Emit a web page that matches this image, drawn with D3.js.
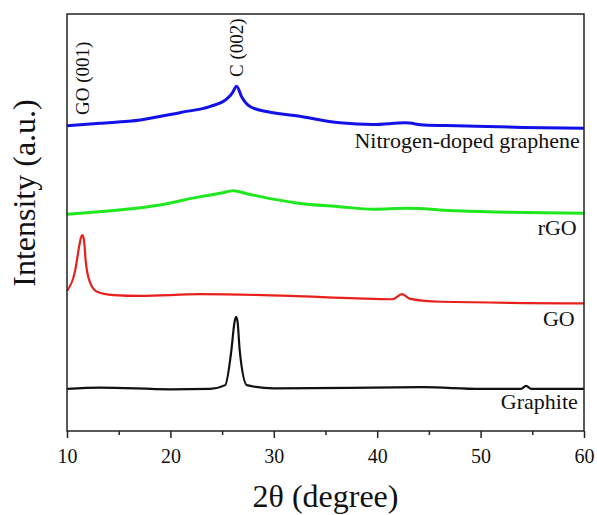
<!DOCTYPE html>
<html>
<head>
<meta charset="utf-8">
<script src="https://cdn.jsdelivr.net/npm/d3@7"></script>
<style>
  body { margin: 0; background: #fff; }
  text { font-family: "Liberation Serif", "Times New Roman", serif; fill: #111; }
</style>
</head>
<body>
<svg width="597" height="515"></svg>
<script>
// data: [2theta, intensity (a.u.)]
var nGraphene = [[10,73.2],[13.2,73.8],[17.1,74.6],[21,76.4],[23.8,77.8],[25.4,79.5],[26,81.1],[26.4,82.7],
  [26.9,80.1],[27.7,77.8],[29.3,76.6],[32.2,75.6],[36.4,73.9],[39.6,73.5],[42.7,73.9],[44.5,73.4],[47.7,73.2],[54.1,72.8],[60,72.6]]
var rGO = [[10,52.0],[14.2,52.8],[19,54.2],[22.9,56.2],[24.8,57.0],[26.1,57.6],[27.4,56.9],[28.7,56.2],[32.2,54.7],[36.4,53.8],
  [39.6,53.2],[42.9,53.4],[47.7,52.8],[60,52.2]]
var GO = [[10,33.6],[10.8,38.6],[11.2,44.6],[11.35,46.4],[11.5,47.0],[11.65,45.6],[11.8,41.0],[12.2,35.8],[12.9,33.4],
  [14.5,32.6],[17.1,32.4],[22.9,32.8],[31.6,32.4],[38,31.8],[41.5,31.6],[42.4,32.8],[43.2,31.7],[46.1,31.0],[60,30.6]]
var graphite = [[10,10.1],[13.2,10.4],[20,10.0],[23.8,10.1],[25.3,11.0],[25.9,19.4],[26.2,26.1],[26.35,27.4],
  [26.5,26.1],[26.7,19.4],[27.4,11.0],[30,10.2],[44.5,10.5],[50,10.1],[53.9,10.1],[54.4,10.8],[54.9,10.1],[60,10.1]]

var seriesNames = ["Nitrogen-doped graphene", "rGO", "GO", "Graphite"]
var seriesData = [nGraphene, rGO, GO, graphite]
var seriesColors = ["#1212e8", "#1fe81f", "#e8201c", "#111111"]
var seriesWidths = [3, 3, 2.2, 2.2]
// label positions in data units [2theta at right edge, intensity at baseline]
var labelPos = [[59.6, 67.8], [59.3, 47.0], [59.1, 25.2], [59.4, 5.2]]

var xTicks = [10, 20, 30, 40, 50, 60]
var xMinor = [15, 25, 35, 45, 55]

var peakNames = ["GO (001)", "C (002)"]
var peakPos = [[11.5, 75.8], [26.4, 84.9]]

var margins = {top: 14, right: 13, bottom: 84, left: 67}
var screen = {width: 597, height: 515}
var width = screen.width - margins.left - margins.right
var height = screen.height - margins.top - margins.bottom
var serif = "'Liberation Serif', 'Times New Roman', serif"

var svg = d3.select("svg")
var g = svg.append("g")
    .attr("transform", "translate(" + margins.left + "," + margins.top + ")")

var xScale = d3.scaleLinear().domain([10, 60]).range([0, width])
var yScale = d3.scaleLinear().domain([0, 100]).range([height, 0])

var lineGenerator = d3.line()
    .x(function(d){ return xScale(d[0]) })
    .y(function(d){ return yScale(d[1]) })
    .curve(d3.curveMonotoneX)

seriesData.forEach(function(arr, i)
{
    g.append("path")
        .datum(arr)
        .attr("fill", "none")
        .attr("stroke", seriesColors[i])
        .attr("stroke-width", seriesWidths[i])
        .attr("stroke-linejoin", "round")
        .attr("d", lineGenerator)

    g.append("text")
        .attr("x", xScale(labelPos[i][0]))
        .attr("y", yScale(labelPos[i][1]))
        .attr("text-anchor", "end")
        .style("font-size", "22px")
        .text(seriesNames[i])
})

peakNames.forEach(function(name, i)
{
    var px = xScale(peakPos[i][0]) + 6
    var py = yScale(peakPos[i][1])
    g.append("text")
        .attr("transform", "translate(" + px + "," + py + ")rotate(-90)")
        .style("font-size", "19px")
        .text(name)
})

// frame
g.append("rect")
    .attr("width", width)
    .attr("height", height)
    .attr("fill", "none")
    .attr("stroke", "#222")
    .attr("stroke-width", 1.5)

var xAxis = d3.axisBottom(xScale)
    .tickValues(xTicks)
    .tickSize(7)
    .tickPadding(11)
    .tickFormat(d3.format("d"))

var ax = g.append("g")
    .attr("transform", "translate(0," + height + ")")
    .call(xAxis)
    .attr("font-family", serif)
ax.select(".domain").remove()
ax.selectAll("line").attr("stroke", "#222").attr("stroke-width", 1.5)
ax.selectAll("text").style("font-size", "20px").style("font-family", serif).attr("fill", "#111")

var minor = d3.axisBottom(xScale).tickValues(xMinor).tickSize(4).tickFormat("")
var mx = g.append("g")
    .attr("transform", "translate(0," + height + ")")
    .call(minor)
mx.select(".domain").remove()
mx.selectAll("line").attr("stroke", "#222").attr("stroke-width", 1.5)

svg.append("text")
    .attr("x", margins.left + width / 2)
    .attr("y", 507)
    .attr("text-anchor", "middle")
    .style("font-size", "32px")
    .text("2θ (degree)")

svg.append("text")
    .attr("transform", "translate(35,193)rotate(-90)")
    .attr("text-anchor", "middle")
    .style("font-size", "32px")
    .text("Intensity (a.u.)")
</script>
</body>
</html>
